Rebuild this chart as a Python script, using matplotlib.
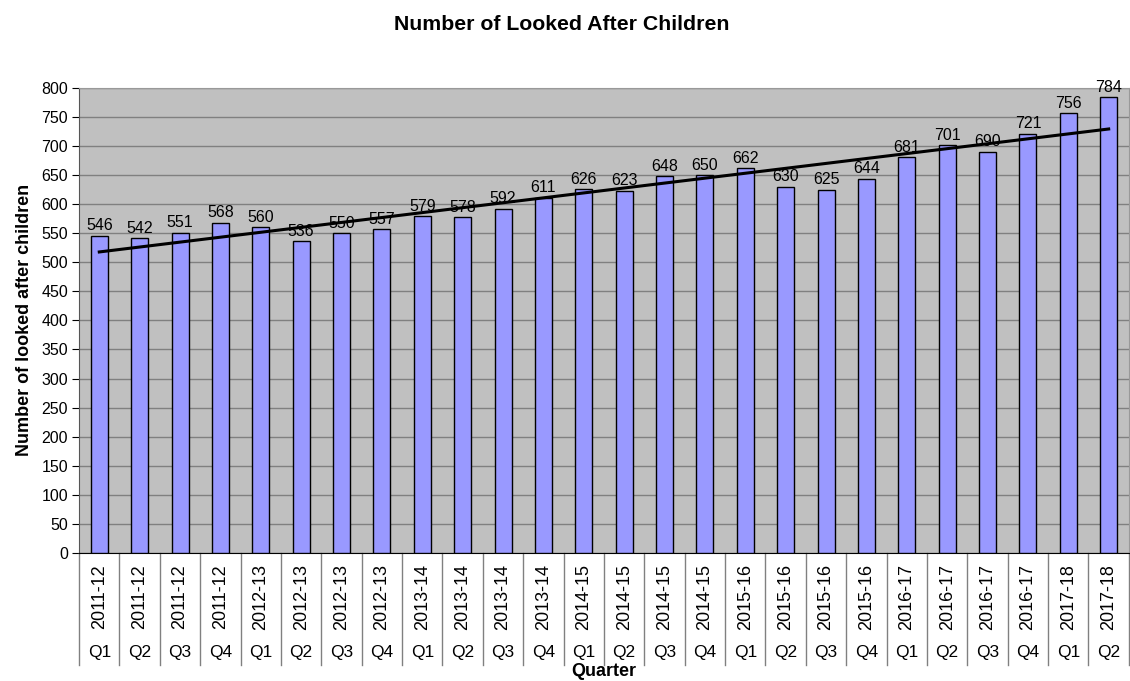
import numpy as np
import matplotlib.pyplot as plt
import matplotlib.transforms as mtransforms

plt.rcParams['font.family'] = ['Liberation Sans', 'DejaVu Sans']

# donnees
annees = ['2011-12'] * 4 + ['2012-13'] * 4 + ['2013-14'] * 4 + ['2014-15'] * 4 \
    + ['2015-16'] * 4 + ['2016-17'] * 4 + ['2017-18'] * 2
trimestres = ['Q1', 'Q2', 'Q3', 'Q4'] * 6 + ['Q1', 'Q2']
enfants = [546, 542, 551, 568, 560, 536, 550, 557, 579, 578, 592, 611, 626,
           623, 648, 650, 662, 630, 625, 644, 681, 701, 690, 721, 756, 784]

x = np.arange(len(enfants))

fig = plt.figure(figsize=(11.3, 6.81), dpi=100)
ax = fig.add_axes([0.07, 0.188, 0.929, 0.683])
ax.set_facecolor('#c0c0c0')

# barres
ax.bar(x, enfants, width=0.42, color='#9999ff', edgecolor='black', linewidth=1, zorder=3)
for xi, v in zip(x, enfants):
    ax.text(xi, v + 4, str(v), ha='center', va='bottom', fontsize=11.5, zorder=5)

# tendance lineaire
pente, origine = np.polyfit(x, enfants, 1)
ax.plot(x, pente * x + origine, color='black', linewidth=2.2, zorder=4)

ax.set_xlim(-0.5, len(enfants) - 0.5)
ax.set_ylim(0, 800)
ax.set_yticks(np.arange(0, 801, 50))
ax.tick_params(axis='y', labelsize=11.5, length=5, direction='out', pad=3)
ax.grid(axis='y', color='#808080', linewidth=1, zorder=0)
ax.set_axisbelow(True)

for s in ['top', 'right']:
    ax.spines[s].set_color('#999999')
ax.spines['left'].set_color('#555555')
ax.spines['bottom'].set_color('black')

# axe x a deux niveaux
ax.set_xticks([])
trans = mtransforms.blended_transform_factory(ax.transData, fig.transFigure)
for xi, an, q in zip(x, annees, trimestres):
    ax.text(xi, 1 - 597 / 681, an, rotation=90, ha='center', va='center',
            fontsize=13, transform=trans)
    ax.text(xi, 1 - 653 / 681, q, ha='center', va='center', fontsize=12.5, transform=trans)
for b in np.arange(-0.5, len(enfants), 1.0):
    ax.plot([b, b], [1 - 553 / 681, 1 - 665 / 681], color='#808080', linewidth=1,
            transform=trans, clip_on=False)

ax.text(0.5, 1 - 672 / 681, 'Quarter', ha='center', va='center', fontsize=13,
        fontweight='bold', transform=mtransforms.blended_transform_factory(ax.transAxes, fig.transFigure))
ax.set_ylabel('Number of looked after children', fontsize=13, fontweight='bold', labelpad=6)
fig.text(0.497, 1 - 25 / 681, 'Number of Looked After Children', ha='center', va='center',
         fontsize=15.3, fontweight='bold')

fig.savefig('out.png', dpi=100)
